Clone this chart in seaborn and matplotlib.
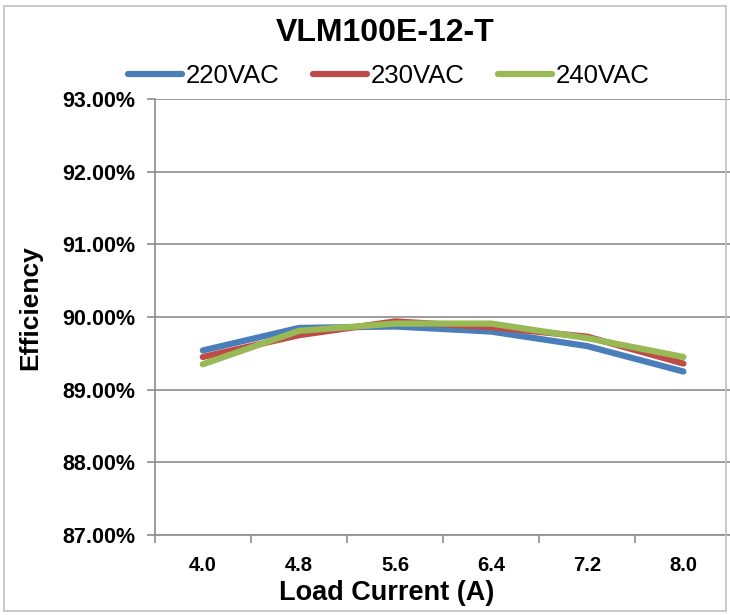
import pandas as pd
import seaborn as sns
import matplotlib.pyplot as plt
from matplotlib.patches import Rectangle
from matplotlib.ticker import FuncFormatter, FixedLocator

# data
loads = ['4.0', '4.8', '5.6', '6.4', '7.2', '8.0']
eff_220 = [89.54, 89.85, 89.87, 89.80, 89.60, 89.25]
eff_230 = [89.45, 89.75, 89.94, 89.86, 89.73, 89.36]
eff_240 = [89.35, 89.81, 89.91, 89.91, 89.71, 89.45]
series = ['220VAC', '230VAC', '240VAC']
colors = ['#4A7EBB', '#BE4B48', '#98B954']

df = pd.DataFrame({
    'load': loads * 3,
    'eff': eff_220 + eff_230 + eff_240,
    'series': [s for s in series for _ in loads],
})

sns.set_style('white')
plt.rcParams['font.family'] = ['Liberation Sans', 'DejaVu Sans']
plt.rcParams['text.color'] = 'black'
plt.rcParams['axes.labelcolor'] = 'black'
plt.rcParams['xtick.color'] = 'black'
plt.rcParams['ytick.color'] = 'black'

fig = plt.figure(figsize=(7.3, 6.15), dpi=100)
ax = fig.add_axes([0.212, 0.130, 0.79, 0.709])

sns.lineplot(data=df, x='load', y='eff', hue='series', palette=colors,
             linewidth=4.5, sort=False, ax=ax)

ax.set_xlim(-0.5, 5.5)
ax.set_ylim(87, 93)
ax.set_yticks(range(87, 94))
ax.yaxis.set_major_formatter(FuncFormatter(lambda v, p: f'{v:.2f}%'))
ax.grid(axis='y', color='#8c8c8c', linewidth=1.2)
ax.grid(axis='x', visible=False)

# ticks between categories
ax.xaxis.set_minor_locator(FixedLocator([i - 0.5 for i in range(7)]))
ax.tick_params(axis='x', which='major', length=0, pad=15, labelsize=14.5)
ax.tick_params(axis='x', which='minor', length=6, color='#8c8c8c', width=1.2, bottom=True)
ax.tick_params(axis='y', length=6, color='#8c8c8c', width=1.2, left=True,
               labelsize=15.5, labelcolor='black', pad=8)
for lbl in ax.get_xticklabels() + ax.get_yticklabels():
    lbl.set_fontweight('bold')

for s in ['top', 'right']:
    ax.spines[s].set_visible(False)
for s in ['left', 'bottom']:
    ax.spines[s].set_color('#8c8c8c')
    ax.spines[s].set_linewidth(1.2)

ax.set_xlabel('')
ax.set_ylabel('Efficiency', fontsize=19, fontweight='bold')
ax.yaxis.set_label_coords(42 / 730, 0.5, transform=fig.transFigure)
fig.text(387 / 730, 1 - 593 / 615, 'Load Current (A)', ha='center', va='center',
         fontsize=19.5, fontweight='bold')

fig.text(385 / 730, 1 - 33 / 615, 'VLM100E-12-T', ha='center', va='center',
         fontsize=23, fontweight='bold')

handles, labels = ax.get_legend_handles_labels()
ax.legend(handles, labels, loc='center', bbox_to_anchor=(389 / 730, 1 - 76 / 615),
          bbox_transform=fig.transFigure, ncol=3, frameon=False, fontsize=18.5,
          handlelength=2.1, handletextpad=0.15, columnspacing=1.3)

fig.patches.append(Rectangle((0.006, 0.006), 0.988, 0.985, transform=fig.transFigure,
                             fill=False, edgecolor='#c0c0c0', linewidth=1.2))

fig.savefig('out.png', dpi=100)
